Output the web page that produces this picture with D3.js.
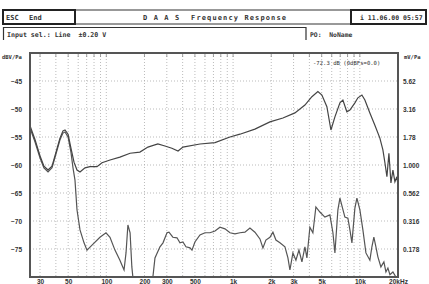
<!DOCTYPE html>
<html>
<head>
<meta charset="utf-8">
<script src="https://cdn.jsdelivr.net/npm/d3@7"></script>
<style>
  body { margin: 0; background: #fff; }
  svg { display: block; }
  .hdr { font-family: "DejaVu Sans Mono", monospace; font-weight: bold; fill: #333; white-space: pre; }
  .tick text { font-family: "Liberation Sans", Arial, sans-serif; font-weight: bold; font-size: 6.5px; fill: #333; }
</style>
</head>
<body>
<div id="chart"></div>
<script>
var svgWidth = 429;
var svgHeight = 284;

var margin = {
  top: 53,
  right: 31,
  bottom: 7,
  left: 30
};

var width = svgWidth - margin.left - margin.right;
var height = svgHeight - margin.top - margin.bottom;

// axis ticks and labels
var freqTicks = [30, 50, 100, 200, 300, 500, 1000, 2000, 3000, 5000, 10000, 20000];
var freqLabels = ["30", "50", "100", "200", "300", "500", "1k", "2k", "3k", "5k", "10k", "20kHz"];
var gridFreqs = [30, 40, 50, 60, 70, 80, 90, 100, 200, 300, 400, 500, 600, 700, 800, 900,
                 1000, 2000, 3000, 4000, 5000, 6000, 7000, 8000, 9000, 10000, 20000];
var dbTicks = [-45, -50, -55, -60, -65, -70, -75];
var mvLabels = ["5.62", "3.16", "1.78", "1.000", "0.562", "0.316", "0.178"];

// frequency response (upper trace)
var respFreq = [25, 27.4, 30, 32.2, 34.7, 37.3, 40.1, 43.1, 45.5, 47.2, 49.9, 52.6, 55.6, 58.7, 62,
                67.9, 74.3, 84.4, 92.4, 107, 128, 154, 184, 213, 255, 290, 329, 368, 402, 548,
                720, 945, 1133, 1487, 1953, 2473, 3075, 3688, 4185, 4667, 5019, 5495, 5915, 6359, 6965,
                7350, 7900, 8350, 9140, 9650, 10380, 10960, 12000, 13140, 14390, 15200, 15770, 16350, 16960, 17590,
                18240, 18910, 19600, 20000];
var respDb = [-53.0, -55.5, -58.4, -60.2, -60.9, -60.2, -57.7, -55.2, -53.9, -53.75, -54.5, -57.0, -59.5, -60.9, -61.25,
              -60.5, -60.3, -60.3, -59.6, -59.1, -58.6, -57.9, -57.7, -56.8, -56.25, -56.6, -57.0, -57.5, -56.8, -56.25,
              -56.0, -55.0, -54.5, -53.6, -52.3, -51.6, -50.7, -49.3, -47.8, -46.9, -47.5, -49.6, -53.75, -51.4, -48.9,
              -48.4, -50.5, -50.2, -48.9, -48.0, -47.5, -48.4, -50.7, -52.9, -55.2, -57.3, -59.6, -62.1, -57.9, -63.2,
              -60.9, -63.0, -62.1, -63.6];

// lower trace
var lowFreq = [25, 27.4, 30, 32.2, 34.7, 37.3, 40.1, 43.1, 45.5, 47.2, 49.9, 52.6, 54.6, 56.6, 58.7,
               62, 66.7, 70.4, 77.1, 89.1, 99.4, 106.9, 117, 128, 133, 138, 143, 148, 154, 159,
               162, 168, 221, 233, 242, 265, 280, 301, 312, 335, 361, 381, 402, 425, 457,
               474, 500, 548, 600, 657, 720, 788, 863, 945, 1035, 1133, 1240, 1358, 1487, 1629,
               1720, 1815, 1953, 2062, 2178, 2342, 2565, 2708, 2808, 2965, 3132, 3308, 3493, 3688, 3823,
               4036, 4262, 4501, 4840, 5299, 5805, 6133, 6359, 6713, 6965, 7622, 8050, 8350, 8660, 9140,
               9480, 10010, 10570, 11170, 12000, 12450, 12900, 13390, 13880, 14660, 15480, 16060, 16650, 17270, 18240,
               19250];
var lowDb = [-53.4, -55.9, -58.75, -60.5, -61.25, -60.5, -58.0, -55.5, -54.3, -54.1, -55.0, -57.7, -60.5, -62.7, -68.0,
             -71.6, -73.9, -75.2, -74.3, -72.9, -72.1, -72.9, -75.2, -77.0, -77.9, -78.75, -75.7, -70.7, -72.1, -78.2,
             -80.0, -82.3, -82.3, -80.0, -76.6, -74.6, -73.9, -72.1, -72.0, -72.9, -73.0, -73.9, -73.75, -74.6, -74.8,
             -75.2, -73.75, -72.5, -72.1, -72.1, -71.8, -71.1, -71.4, -72.1, -72.3, -72.1, -72.0, -71.25, -72.0, -73.2,
             -74.8, -73.4, -72.9, -72.0, -73.4, -73.9, -74.6, -76.6, -78.75, -75.7, -77.0, -75.2, -77.3, -74.6, -76.6,
             -71.1, -72.1, -67.5, -68.4, -69.3, -68.9, -72.1, -75.7, -68.0, -65.9, -69.3, -69.5, -71.6, -73.9, -67.7,
             -65.9, -68.0, -71.6, -75.7, -77.0, -74.6, -72.9, -74.6, -76.4, -78.2, -77.3, -79.1, -78.4, -79.6, -79.1,
             -80.0];

var svg = d3.select("#chart")
  .append("svg")
  .attr("width", svgWidth)
  .attr("height", svgHeight);

// ---- header ----
var hdr = svg.append("g");
hdr.append("rect").attr("x", 3).attr("y", 10).attr("width", 423).attr("height", 14)
  .attr("fill", "none").attr("stroke", "#333").attr("stroke-width", 1);
hdr.append("rect").attr("x", 3).attr("y", 10).attr("width", 72).attr("height", 14)
  .attr("fill", "none").attr("stroke", "#222").attr("stroke-width", 2);
hdr.append("rect").attr("x", 351).attr("y", 10).attr("width", 75).attr("height", 14)
  .attr("fill", "none").attr("stroke", "#222").attr("stroke-width", 2);
hdr.append("path").attr("d", "M3.5,40V27.5H306V40")
  .attr("fill", "none").attr("stroke", "#333").attr("stroke-width", 1.2);

hdr.append("text").attr("class", "hdr").attr("x", 6).attr("y", 19.5).attr("font-size", "7px").text("ESC");
hdr.append("text").attr("class", "hdr").attr("x", 29).attr("y", 19.5).attr("font-size", "7px").text("End");
hdr.append("text").attr("class", "hdr").attr("x", 143).attr("y", 19.5).attr("font-size", "7px")
  .attr("textLength", 143).attr("lengthAdjust", "spacing").text("D A A S  Frequency Response");
hdr.append("text").attr("class", "hdr").attr("x", 360).attr("y", 19.5).attr("font-size", "6.5px")
  .text("i 11.06.00 05:57");
hdr.append("text").attr("class", "hdr").attr("x", 7).attr("y", 37).attr("font-size", "6.6px")
  .text("Input sel.: Line  \u00b10.20 V");
hdr.append("text").attr("class", "hdr").attr("x", 310).attr("y", 37).attr("font-size", "6.4px")
  .text("PO:  NoName");

// ---- chart ----
var chartGroup = svg.append("g")
  .attr("transform", `translate(${margin.left}, ${margin.top})`);

var xLogScale = d3.scaleLog().domain([25, 20000]).range([0, width]);
var yLinearScale = d3.scaleLinear().domain([-80, -40]).range([height, 0]);

chartGroup.append("rect").attr("width", width).attr("height", height).attr("fill", "#fff");

// grid
chartGroup.selectAll(".vgrid")
  .data(gridFreqs)
  .enter()
  .append("line")
  .attr("x1", d => xLogScale(d)).attr("x2", d => xLogScale(d))
  .attr("y1", 0).attr("y2", height)
  .attr("stroke", "#aaa").attr("stroke-width", 0.8).attr("stroke-dasharray", "1,2");

chartGroup.selectAll(".topTick")
  .data(gridFreqs)
  .enter()
  .append("line")
  .attr("x1", d => xLogScale(d)).attr("x2", d => xLogScale(d))
  .attr("y1", 0).attr("y2", 4)
  .attr("stroke", "#888").attr("stroke-width", 0.8);

chartGroup.selectAll(".hgrid")
  .data(dbTicks)
  .enter()
  .append("line")
  .attr("x1", 0).attr("x2", width)
  .attr("y1", d => yLinearScale(d)).attr("y2", d => yLinearScale(d))
  .attr("stroke", "#aaa").attr("stroke-width", 0.8).attr("stroke-dasharray", "1,2");

// traces
chartGroup.append("clipPath").attr("id", "plotClip")
  .append("rect").attr("width", width).attr("height", height);

var line = d3.line()
  .x(d => xLogScale(d[0]))
  .y(d => yLinearScale(d[1]));

chartGroup.append("path")
  .datum(lowFreq.map((f, i) => [f, lowDb[i]]))
  .attr("clip-path", "url(#plotClip)")
  .attr("d", line)
  .attr("fill", "none").attr("stroke", "#555").attr("stroke-width", 1.2);

chartGroup.append("path")
  .datum(respFreq.map((f, i) => [f, respDb[i]]))
  .attr("clip-path", "url(#plotClip)")
  .attr("d", line)
  .attr("fill", "none").attr("stroke", "#444").attr("stroke-width", 1.2);

// frame
chartGroup.append("rect").attr("width", width).attr("height", height)
  .attr("fill", "none").attr("stroke", "#555").attr("stroke-width", 2);

// axes
var bottomAxis = d3.axisBottom(xLogScale)
  .tickValues(freqTicks)
  .tickFormat((d, i) => freqLabels[i])
  .tickSize(0).tickPadding(2);
var leftAxis = d3.axisLeft(yLinearScale).tickValues(dbTicks).tickSize(0).tickPadding(8);
var rightAxis = d3.axisRight(yLinearScale)
  .tickValues(dbTicks)
  .tickFormat((d, i) => mvLabels[i])
  .tickSize(0).tickPadding(5);

chartGroup.append("g").attr("transform", `translate(0, ${height})`).call(bottomAxis)
  .select(".domain").remove();
chartGroup.append("g").call(leftAxis).select(".domain").remove();
chartGroup.append("g").attr("transform", `translate(${width}, 0)`).call(rightAxis)
  .select(".domain").remove();

// unit labels
svg.append("text").attr("class", "hdr").attr("x", 2).attr("y", 59).attr("font-size", "5.5px").text("dBV/Pa");
svg.append("text").attr("class", "hdr").attr("x", 404).attr("y", 59).attr("font-size", "5.5px").text("mV/Pa");
chartGroup.append("text").attr("class", "hdr").attr("x", 283).attr("y", 11.5).attr("font-size", "5.6px")
  .style("font-weight", "normal").text("-72.3 dB (0dBFs=0.0)");
</script>
</body>
</html>
